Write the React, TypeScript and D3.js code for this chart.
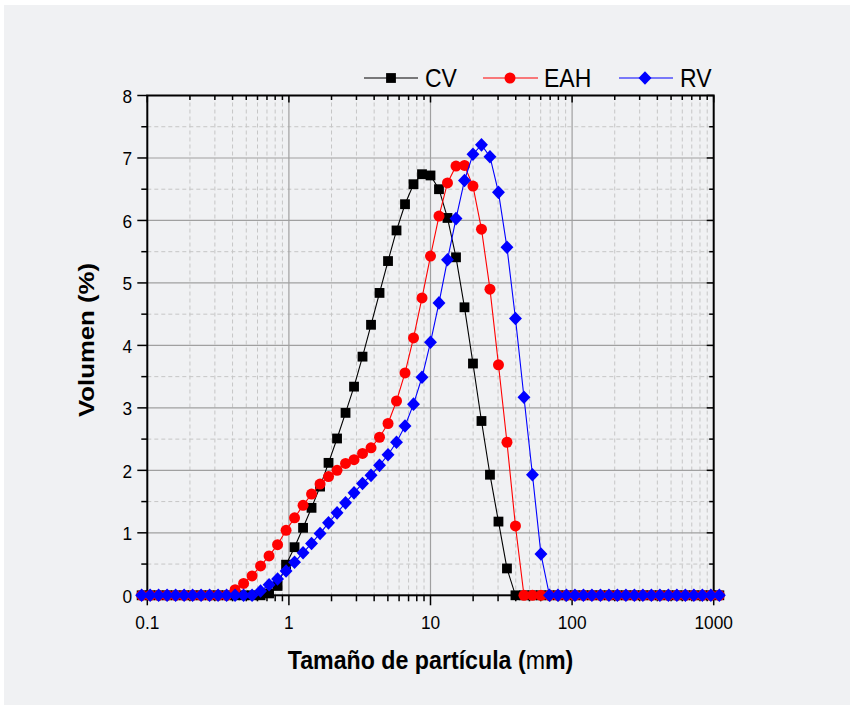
import React from "react";
import * as d3 from "d3";

// Particle size channels (µm)
const sizes = [
  0.0912, 0.1047, 0.1202, 0.138, 0.1585, 0.182, 0.2089, 0.2399, 0.2754, 0.3162,
  0.3631, 0.4169, 0.4786, 0.5495, 0.631, 0.7244, 0.8318, 0.955, 1.096, 1.259,
  1.445, 1.66, 1.905, 2.188, 2.512, 2.884, 3.311, 3.802, 4.365, 5.012,
  5.754, 6.607, 7.586, 8.71, 10.0, 11.48, 13.18, 15.14, 17.38, 19.95,
  22.91, 26.3, 30.2, 34.67, 39.81, 45.71, 52.48, 60.26, 69.18, 79.43,
  91.2, 104.7, 120.2, 138.0, 158.5, 182.0, 208.9, 239.9, 275.4, 316.2,
  363.1, 416.9, 478.6, 549.5, 631.0, 724.4, 831.8, 955.0, 1096,
];

const cv = [
  0, 0, 0, 0, 0, 0, 0, 0, 0, 0, 0, 0, 0, 0, 0,
  0.03, 0.15, 0.49, 0.77, 1.08, 1.4, 1.74, 2.12, 2.51, 2.92,
  3.34, 3.82, 4.33, 4.84, 5.35, 5.84, 6.26, 6.58, 6.74, 6.72,
  6.5, 6.04, 5.41, 4.61, 3.71, 2.79, 1.93, 1.18, 0.43,
  0, 0, 0, 0, 0, 0, 0, 0, 0, 0, 0, 0, 0, 0, 0, 0, 0, 0, 0, 0, 0, 0, 0, 0, 0,
];

const eah = [
  0, 0, 0, 0, 0, 0, 0, 0, 0, 0, 0,
  0.09, 0.19, 0.31, 0.47, 0.63, 0.81, 1.04, 1.24, 1.44, 1.62,
  1.78, 1.9, 2.0, 2.11, 2.17, 2.27, 2.36, 2.53, 2.75, 3.11,
  3.56, 4.12, 4.76, 5.43, 6.07, 6.6, 6.87, 6.88, 6.55, 5.86,
  4.9, 3.69, 2.45, 1.11,
  0, 0, 0, 0, 0, 0, 0, 0, 0, 0, 0, 0, 0, 0, 0, 0, 0, 0, 0, 0, 0, 0, 0, 0,
];

const rv = [
  0, 0, 0, 0, 0, 0, 0, 0, 0, 0, 0, 0, 0, 0,
  0.07, 0.17, 0.26, 0.39, 0.53, 0.68, 0.83, 0.99, 1.16, 1.32,
  1.48, 1.64, 1.79, 1.92, 2.08, 2.25, 2.45, 2.71, 3.06, 3.49,
  4.05, 4.68, 5.37, 6.03, 6.64, 7.06, 7.21, 7.02, 6.45, 5.57,
  4.43, 3.17, 1.93, 0.66,
  0, 0, 0, 0, 0, 0, 0, 0, 0, 0, 0, 0, 0, 0, 0, 0, 0, 0, 0, 0, 0,
];

const seriesNames = ["CV", "EAH", "RV"];
const xMajorTicks = [0.1, 1, 10, 100, 1000];
const xTickLabels = ["0.1", "1", "10", "100", "1000"];
const yMajorTicks = [0, 1, 2, 3, 4, 5, 6, 7, 8];
const yMinorTicks = [0.5, 1.5, 2.5, 3.5, 4.5, 5.5, 6.5, 7.5];
const decades = [0.1, 1, 10, 100];
const minorMult = [2, 3, 4, 5, 6, 7, 8, 9];

const W = 854;
const H = 709;
const FONT = "'Liberation Sans', Arial, Helvetica, sans-serif";

const x = d3.scaleLog().domain([0.1, 1000]).range([147.3, 713.7]);
const y = d3.scaleLinear().domain([0, 8]).range([595.3, 95.5]);

const L = x.range()[0];
const R = x.range()[1];
const B = y.range()[0];
const T = y.range()[1];

const xMinorTicks = decades.flatMap((d) => minorMult.map((m) => d * m));

const colors = ["#000000", "#ff0000", "#0000ff"];
const data = [cv, eah, rv];

function Marker({ kind, cx, cy, color }: { kind: number; cx: number; cy: number; color: string }) {
  if (kind === 0) {
    return <rect x={cx - 4.9} y={cy - 4.9} width={9.8} height={9.8} fill={color} />;
  }
  if (kind === 1) {
    return <circle cx={cx} cy={cy} r={5.5} fill={color} />;
  }
  const s = 6.8;
  return (
    <path
      d={`M${cx},${cy - s}L${cx + s * 0.95},${cy}L${cx},${cy + s}L${cx - s * 0.95},${cy}Z`}
      fill={color}
    />
  );
}

export default function App() {
  const line = d3
    .line<[number, number]>()
    .x((d) => x(d[0]))
    .y((d) => y(d[1]));

  const legendItems = [
    { x0: 364, x1: 418, mx: 391, tx: 425 },
    { x0: 483, x1: 538, mx: 510, tx: 544 },
    { x0: 619, x1: 673, mx: 645, tx: 680 },
  ];
  const legY = 78;

  return (
    <div style={{ position: "absolute", left: 0, top: 0 }}>
      <svg width={W} height={H} viewBox={`0 0 ${W} ${H}`} style={{ display: "block" }}>
        <rect x={0} y={0} width={W} height={H} fill="#ffffff" />
        <rect x={4} y={5} width={W - 8} height={H - 9} fill="#f0f1f3" />

        {/* minor grid */}
        <g stroke="#c6c6c6" strokeWidth={1} strokeDasharray="4,3" fill="none">
          {xMinorTicks.map((v) => (
            <line key={"xm" + v} x1={x(v)} x2={x(v)} y1={T} y2={B} />
          ))}
          {yMinorTicks.map((v) => (
            <line key={"ym" + v} x1={L} x2={R} y1={y(v)} y2={y(v)} />
          ))}
        </g>
        {/* major grid */}
        <g stroke="#a0a0a0" strokeWidth={1.2} fill="none">
          {xMajorTicks.slice(1, -1).map((v) => (
            <line key={"xM" + v} x1={x(v)} x2={x(v)} y1={T} y2={B} />
          ))}
          {yMajorTicks.slice(1, -1).map((v) => (
            <line key={"yM" + v} x1={L} x2={R} y1={y(v)} y2={y(v)} />
          ))}
        </g>

        {/* ticks */}
        <g stroke="#000" strokeWidth={1.5}>
          {xMajorTicks.map((v) => (
            <g key={"bt" + v}>
              <line x1={x(v)} x2={x(v)} y1={B} y2={B + 10} />
              <line x1={x(v)} x2={x(v)} y1={T} y2={T + 7} />
            </g>
          ))}
          {xMinorTicks.map((v) => (
            <g key={"bm" + v}>
              <line x1={x(v)} x2={x(v)} y1={B} y2={B + 6} />
              <line x1={x(v)} x2={x(v)} y1={T} y2={T + 4.5} />
            </g>
          ))}
          {yMajorTicks.map((v) => (
            <g key={"lt" + v}>
              <line x1={L - 10} x2={L} y1={y(v)} y2={y(v)} />
              <line x1={R - 7} x2={R} y1={y(v)} y2={y(v)} />
            </g>
          ))}
          {yMinorTicks.map((v) => (
            <g key={"lm" + v}>
              <line x1={L - 6} x2={L} y1={y(v)} y2={y(v)} />
              <line x1={R - 4.5} x2={R} y1={y(v)} y2={y(v)} />
            </g>
          ))}
        </g>

        {/* frame */}
        <rect x={L} y={T} width={R - L} height={B - T} fill="none" stroke="#000" strokeWidth={2} />

        {/* tick labels */}
        <g fontFamily={FONT} fontSize={17.3} fill="#000">
          {xMajorTicks.map((v, i) => (
            <text
              key={"xl" + v}
              transform={`translate(${x(v)},${628.5}) scale(1,1.1)`}
              textAnchor="middle"
            >
              {xTickLabels[i]}
            </text>
          ))}
          {yMajorTicks.map((v) => (
            <text
              key={"yl" + v}
              transform={`translate(${132},${y(v) + 7.5}) scale(1,1.1)`}
              textAnchor="end"
            >
              {String(v)}
            </text>
          ))}
        </g>

        {/* series */}
        {data.map((vals, si) => {
          const pts = sizes.map((s, i) => [s, vals[i]] as [number, number]);
          return (
            <g key={"s" + si}>
              <path d={line(pts) || ""} fill="none" stroke={colors[si]} strokeWidth={1.1} />
              {pts.map((p, i) => (
                <Marker key={i} kind={si} cx={x(p[0])} cy={y(p[1])} color={colors[si]} />
              ))}
            </g>
          );
        })}

        {/* legend */}
        {legendItems.map((it, i) => (
          <g key={"lg" + i}>
            <line x1={it.x0} x2={it.x1} y1={legY} y2={legY} stroke={colors[i]} strokeWidth={1.1} />
            <Marker kind={i} cx={it.mx} cy={legY} color={colors[i]} />
            <text
              transform={`translate(${it.tx},${87}) scale(1,1.15)`}
              fontFamily={FONT}
              fontSize={23}
              fill="#000"
            >
              {seriesNames[i]}
            </text>
          </g>
        ))}

        {/* axis titles */}
        <text
          transform={`translate(${430.5},${669}) scale(1,1.1)`}
          textAnchor="middle"
          fontFamily={FONT}
          fontSize={23.2}
          fontWeight="bold"
          fill="#000"
        >
          Tamaño de partícula (<tspan fontWeight="normal">m</tspan>m)
        </text>
        <text
          transform={`translate(${94},${340}) scale(1,1.12) rotate(-90)`}
          textAnchor="middle"
          fontFamily={FONT}
          fontSize={23}
          fontWeight="bold"
          fill="#000"
        >
          Volumen (%)
        </text>
      </svg>
    </div>
  );
}
